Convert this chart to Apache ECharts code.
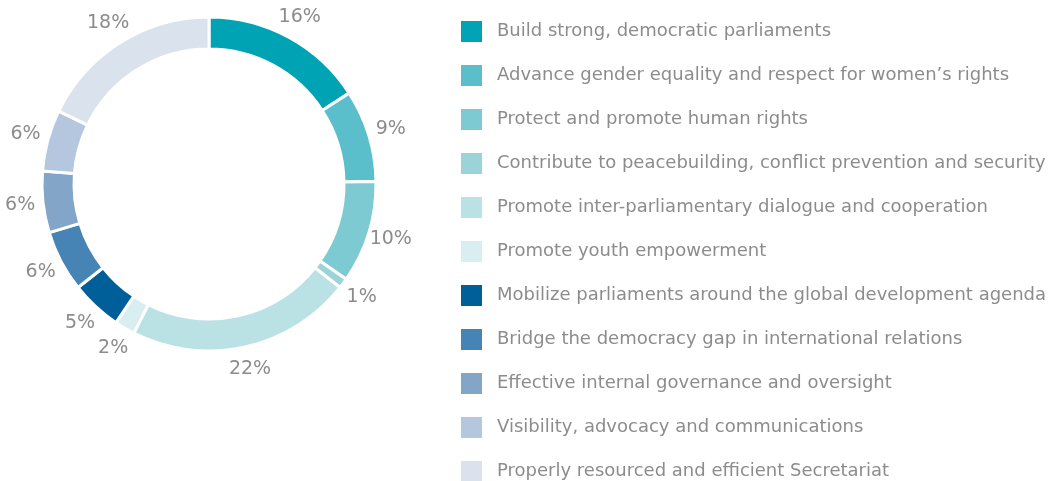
<!DOCTYPE html>
<html>
<head>
<meta charset="utf-8">
<script src="https://cdn.jsdelivr.net/npm/echarts@6/dist/echarts.min.js"></script>
<style>
  html, body { margin: 0; padding: 0; background: #fff; }
  #chart { width: 1051px; height: 481px; }
</style>
</head>
<body>
<div id="chart"></div>
<script>
const categories = [
  'Build strong, democratic parliaments',
  'Advance gender equality and respect for women\u2019s rights',
  'Protect and promote human rights',
  'Contribute to peacebuilding, conflict prevention and security',
  'Promote inter-parliamentary dialogue and cooperation',
  'Promote youth empowerment',
  'Mobilize parliaments around the global development agenda',
  'Bridge the democracy gap in international relations',
  'Effective internal governance and oversight',
  'Visibility, advocacy and communications',
  'Properly resourced and efficient Secretariat'
];
const shares = [16, 9, 10, 1, 22, 2, 5, 6, 6, 6, 18];
const colors = [
  '#00a3b4', '#5bbfcb', '#7ecad3', '#9bd3d9', '#bae1e3', '#d9eef0',
  '#005f99', '#4584b4', '#83a5c8', '#b4c7de', '#dae2ed'
];

const chart = echarts.init(document.getElementById('chart'));

const pieData = categories.map((name, i) => ({
  name: name,
  value: shares[i],
  itemStyle: { color: colors[i] }
}));

// second ring, invisible, only used to place the % labels around the donut
const labelData = categories.map((name, i) => ({
  name: name,
  value: shares[i]
}));

chart.setOption({
  animation: false,
  legend: {
    orient: 'vertical',
    left: 459,
    top: 19,
    height: 520,
    padding: 0,
    itemWidth: 23,
    itemHeight: 23,
    itemGap: 19,
    icon: 'rect',
    data: categories,
    selectedMode: false,
    textStyle: {
      fontFamily: 'DejaVu Sans',
      fontSize: 18,
      lineHeight: 21,
      color: '#8c8c8c',
      padding: [0, 0, 0, 9]
    }
  },
  series: [
    {
      name: 'share',
      type: 'pie',
      center: [209, 184],
      radius: [135, 167],
      startAngle: 90,
      clockwise: true,
      silent: true,
      itemStyle: { borderColor: '#fff', borderWidth: 3 },
      label: { show: false },
      labelLine: { show: false },
      data: pieData
    },
    {
      name: 'labels',
      type: 'pie',
      center: [209, 184],
      radius: [170, 204],
      startAngle: 90,
      clockwise: true,
      silent: true,
      itemStyle: { color: 'rgba(0,0,0,0)' },
      label: {
        show: true,
        position: 'inside',
        formatter: p => p.value + '%',
        fontFamily: 'DejaVu Sans',
        fontSize: 19,
        color: '#8c8c8c'
      },
      labelLine: { show: false },
      data: labelData
    }
  ]
});
</script>
</body>
</html>
